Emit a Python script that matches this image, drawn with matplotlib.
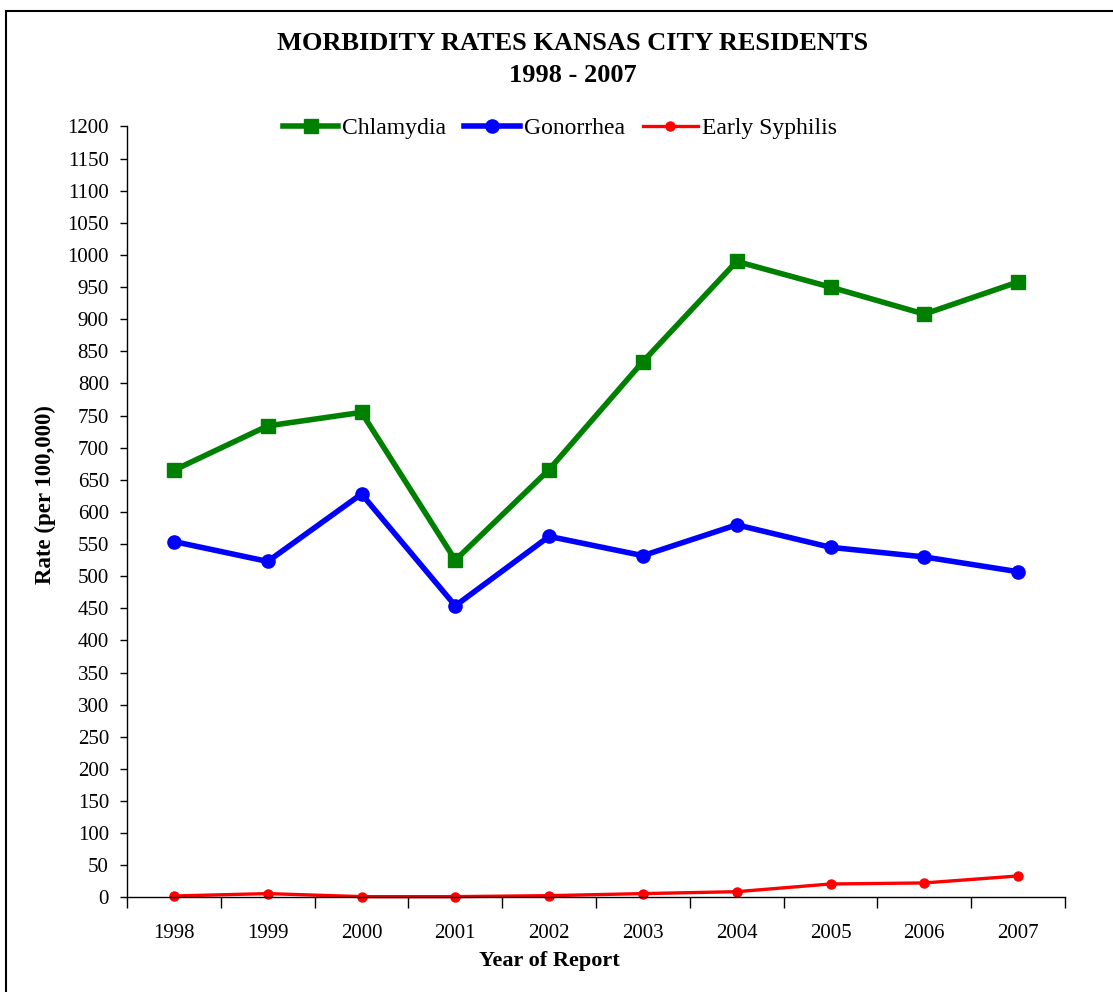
import matplotlib.pyplot as plt
from matplotlib.patches import Rectangle

plt.rcParams['font.family'] = 'Liberation Serif'

years = ['1998', '1999', '2000', '2001', '2002', '2003', '2004', '2005', '2006', '2007']
chlamydia = [665, 734, 755, 525, 666, 834, 990, 950, 908, 958]
gonorrhea = [554, 523, 628, 454, 562, 532, 580, 545, 530, 507]
syphilis = [2.3, 6, 1.3, 1.3, 2.8, 6, 9, 21, 22.6, 33.5]
y_ticks = list(range(0, 1201, 50))

fig = plt.figure(figsize=(11.13, 9.92), dpi=100)
ax = fig.add_axes([0.1141, 0.0953, 0.8428, 0.7772])

x = list(range(len(years)))
ax.plot(x, chlamydia, color='#008000', lw=4, marker='s', ms=9.5, label='Chlamydia', clip_on=False)
ax.plot(x, gonorrhea, color='#0000FF', lw=4, marker='o', ms=9.5, label='Gonorrhea', clip_on=False)
ax.plot(x, syphilis, color='#FF0000', lw=2.4, marker='o', ms=6.5, label='Early Syphilis', clip_on=False)

ax.set_xlim(-0.5, len(years) - 0.5)
ax.set_ylim(0, 1200)
ax.set_yticks(y_ticks)
ax.set_yticklabels([str(v) for v in y_ticks], fontsize=15)
ax.set_xticks(x)
ax.set_xticklabels(years, fontsize=15)
ax.set_xticks([i - 0.5 for i in range(len(years) + 1)], minor=True)
ax.tick_params(axis='x', which='major', length=0, pad=19)
ax.tick_params(axis='x', which='minor', length=8, direction='out', width=1)
ax.tick_params(axis='y', length=5, width=1, pad=8)

for s in ['top', 'right']:
    ax.spines[s].set_visible(False)
for s in ['left', 'bottom']:
    ax.spines[s].set_linewidth(1)

ax.set_xlabel('Year of Report', fontsize=16, fontweight='bold', labelpad=6, x=0.45)
ax.set_ylabel('Rate (per 100,000)', fontsize=16.5, fontweight='bold', labelpad=8, y=0.522)

fig.text(0.5144, 1 - 44 / 992, 'MORBIDITY RATES KANSAS CITY RESIDENTS', ha='center', va='center',
         fontsize=19, fontweight='bold')
fig.text(0.5144, 1 - 76 / 992, '1998 - 2007', ha='center', va='center', fontsize=19, fontweight='bold')

leg = ax.legend(loc='center', bbox_to_anchor=(0.4616, 0.998), ncol=3, frameon=False, fontsize=17,
                handlelength=2.35, handletextpad=0.17, columnspacing=0.76, borderaxespad=0)

fig.patches.append(Rectangle((6 / 1113, -0.1), 1.2, 1.1 - 11 / 992, transform=fig.transFigure,
                             fill=False, edgecolor='black', lw=1.5))

fig.savefig('out.png', dpi=100)
